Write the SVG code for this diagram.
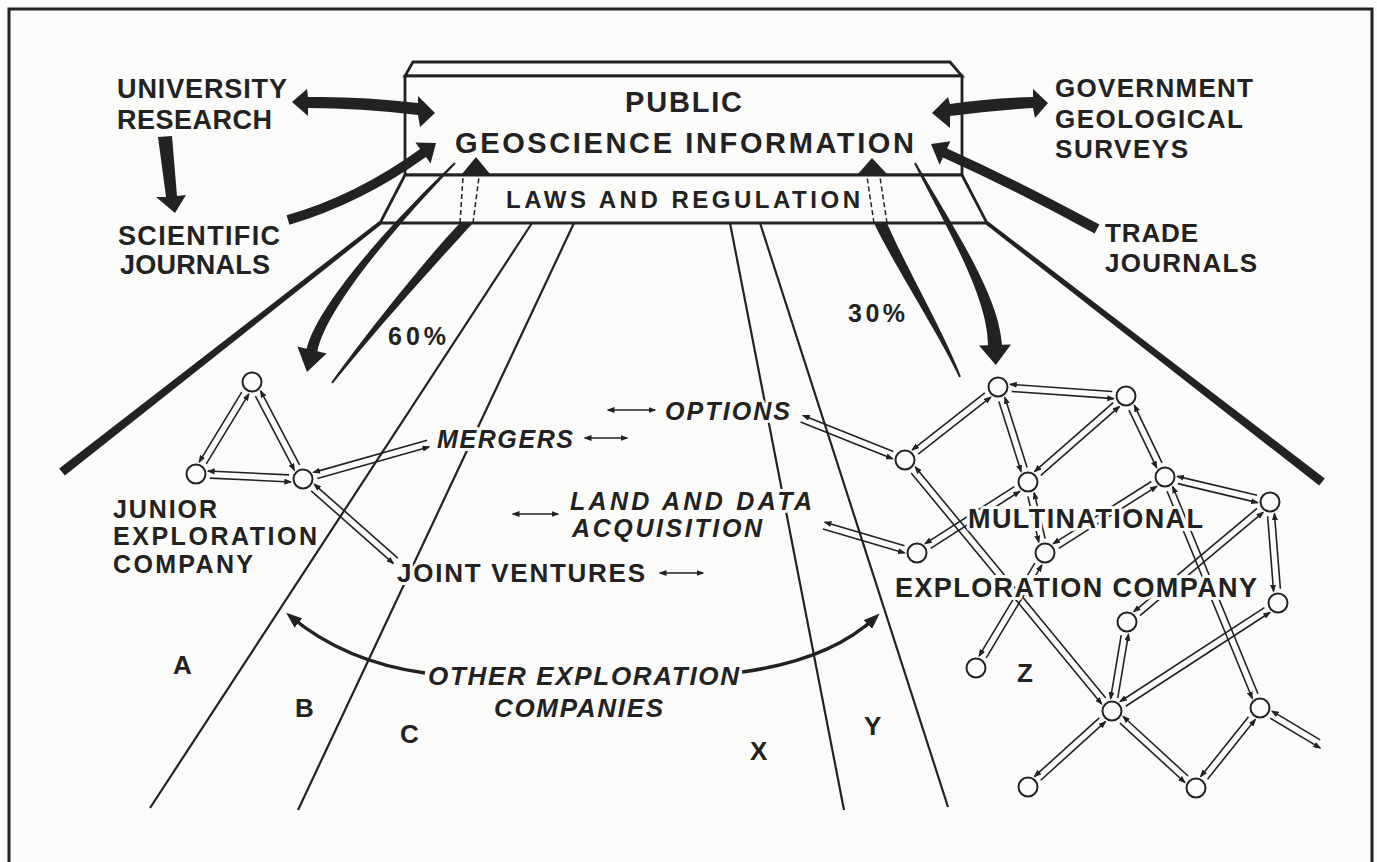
<svg xmlns="http://www.w3.org/2000/svg" width="1377" height="862" viewBox="0 0 1377 862">
<defs>
<style>
.t{font-family:"Liberation Sans",Arial,Helvetica,sans-serif;font-weight:bold;fill:#222}
.it{font-style:italic}
.halo{stroke:#fbfbfa;stroke-width:6;stroke-linejoin:round;paint-order:stroke}
.road{stroke:#222;stroke-width:2.2;fill:none}
.box{stroke:#222;stroke-width:2.8;fill:#fbfbfa;stroke-linejoin:miter}
.ink{fill:#222;stroke:none}
.dash{stroke:#222;stroke-width:1.5;stroke-dasharray:5 3;fill:none}
.pair line,.dbl{stroke:#222;stroke-width:1.6;fill:none;marker-end:url(#ah)}
.dbl{marker-start:url(#ah)}
.node circle{fill:#fbfbfa;stroke:#222;stroke-width:2}
.curve{stroke:#222;stroke-width:3.5;fill:none;marker-end:url(#ahL)}
</style>
<marker id="ah" viewBox="0 0 8 6" refX="6.5" refY="3" markerWidth="8" markerHeight="6" markerUnits="userSpaceOnUse" orient="auto-start-reverse"><path d="M0,0 L8,3 L0,6 Z" fill="#222"/></marker>
<marker id="ahL" viewBox="0 0 16 12" refX="11" refY="6" markerWidth="16" markerHeight="12" markerUnits="userSpaceOnUse" orient="auto"><path d="M0,0 L16,6 L0,12 Z" fill="#222"/></marker>
</defs>
<rect width="1377" height="862" fill="#fbfbfa"/>
<path id="frame" d="M9,862 V9 H1372 V862" fill="none" stroke="#222" stroke-width="3"/>

<g id="perspective">
<polygon class="ink" points="378.8,221.4 381.2,224.6 64.8,475.5 59.2,468.5"/>
<polygon class="ink" points="988.2,221.4 985.8,224.6 1319.2,485.6 1324.8,478.4"/>
<line class="road" x1="532" y1="223" x2="150" y2="808"/>
<line class="road" x1="574" y1="223" x2="298" y2="810"/>
<line class="road" x1="730" y1="223" x2="844" y2="810"/>
<line class="road" x1="760" y1="223" x2="948" y2="807"/>
</g>

<g id="public-geoscience">
<path class="box" d="M413,62 L950,62 L962,76 L405,76 Z"/>
<rect class="box" x="405" y="76" width="557" height="99"/>
<text class="t" x="625" y="112" font-size="29" textLength="117" lengthAdjust="spacing">PUBLIC</text>
<text class="t" x="455" y="153" font-size="29" textLength="459" lengthAdjust="spacing">GEOSCIENCE INFORMATION</text>
</g>
<g id="laws-regulation">
<path class="box" d="M405,175 L962,175 L987,223 L380,223 Z"/>
<text class="t" x="506" y="208" font-size="24" textLength="354" lengthAdjust="spacing">LAWS AND REGULATION</text>
</g>

<g id="connectors">
<path class="ink" d="M292,102 L307,89 L308,97 Q360,96 418,103 L418,96 L435,113 L420,127 L418,115 Q360,108 308,108 L308,116 Z"/>
<path class="ink" d="M158,137 L172,136 L177,196 L186,195 L175,213 L156,197 L166,197 Z"/>
<path class="ink" d="M286.6,215.2 Q356.4,195.1 420.1,148.9 L415.4,142.5 L436,143 L430.6,163.5 L425.9,157.1 Q360.6,203.9 289.4,224.8 Z"/>
<path class="ink" d="M932,113 L948,97 L950,104 Q990,98 1033,97 L1033,89 L1048,103 L1035,118 L1033,108 Q990,111 950,116 L950,128 Z"/>
<path class="ink" d="M1099.4,224.6 Q1020.2,181.5 947.1,148.4 L950.4,141.2 L931,144 L939.6,164.8 L942.9,157.6 Q1015.8,190.5 1094.6,233.4 Z"/>
<path class="ink" d="M454.3,162.3 C403.2,211.3 319,299.9 306.6,348.8 L297.4,346.6 L307,372 L326.6,353.4 L317.4,351.2 C327,304.1 406.8,214.7 455.7,163.7 Z"/>
<path class="ink" d="M332.8,383.6 C371.95,334.6 433.8,265.3 473,223 L460,223 C426.2,258.7 368.05,331.4 331.2,382.4 Z"/>
<line class="dash" x1="460" y1="223" x2="463" y2="177"/>
<line class="dash" x1="473" y1="223" x2="479" y2="177"/>
<polygon class="ink" points="462,174 476,157 490,174"/>
<path class="ink" d="M914.1,163.5 C947.4,229.5 987.8,296.7 988,345.3 L979,345.6 L995.8,365 L1011,344.4 L1002,344.7 C998.2,293.4 952.6,226.5 915.9,162.5 Z"/>
<path class="ink" d="M960.9,376.6 C947.2,338.9 902.4,259.7 887,223 L874,223 C893.6,264.3 942.8,341.1 959.1,377.4 Z"/>
<line class="dash" x1="874" y1="223" x2="867" y2="177"/>
<line class="dash" x1="887" y1="223" x2="880" y2="177"/>
<polygon class="ink" points="858,174 872,158 887,174"/>

<path class="curve" d="M425,673 Q345,662 290,616"/>
<path class="curve" d="M742,672 Q830,660 876,617"/>

<line class="dbl" x1="585" y1="438" x2="627" y2="438"/>
<line class="dbl" x1="608" y1="410" x2="655" y2="410"/>
<line class="dbl" x1="513" y1="514" x2="558" y2="514"/>
<line class="dbl" x1="660" y1="573" x2="703" y2="573"/>

<g class="pair">
<g transform="translate(252,382) rotate(121.33)"><line x1="14" y1="3.5" x2="95.7" y2="3.5"/><line x1="93.7" y1="-3.5" x2="12" y2="-3.5"/></g>
<g transform="translate(252,382) rotate(62.26)"><line x1="14" y1="3.5" x2="97.6" y2="3.5"/><line x1="95.6" y1="-3.5" x2="12" y2="-3.5"/></g>
<g transform="translate(196,474) rotate(2.68)"><line x1="14" y1="3.5" x2="95.1" y2="3.5"/><line x1="93.1" y1="-3.5" x2="12" y2="-3.5"/></g>
<g transform="translate(303,479) rotate(-15.83)"><line x1="14" y1="3.5" x2="130" y2="3.5"/><line x1="130" y1="-3.5" x2="12" y2="-3.5"/></g>
<g transform="translate(303,479) rotate(41.44)"><line x1="14" y1="3.5" x2="123.4" y2="3.5"/><line x1="123.4" y1="-3.5" x2="12" y2="-3.5"/></g>
</g>

<g class="pair">
<g transform="translate(998,387) rotate(4.02)"><line x1="14" y1="3.5" x2="116.3" y2="3.5"/><line x1="114.3" y1="-3.5" x2="12" y2="-3.5"/></g>
<g transform="translate(998,387) rotate(141.87)"><line x1="14" y1="3.5" x2="106.2" y2="3.5"/><line x1="104.2" y1="-3.5" x2="12" y2="-3.5"/></g>
<g transform="translate(998,387) rotate(72.47)"><line x1="14" y1="3.5" x2="87.6" y2="3.5"/><line x1="85.6" y1="-3.5" x2="12" y2="-3.5"/></g>
<g transform="translate(1126,396) rotate(138.73)"><line x1="14" y1="3.5" x2="118.4" y2="3.5"/><line x1="116.4" y1="-3.5" x2="12" y2="-3.5"/></g>
<g transform="translate(1126,396) rotate(64.29)"><line x1="14" y1="3.5" x2="77.9" y2="3.5"/><line x1="75.9" y1="-3.5" x2="12" y2="-3.5"/></g>
<g transform="translate(1165,477) rotate(13.39)"><line x1="14" y1="3.5" x2="95.9" y2="3.5"/><line x1="93.9" y1="-3.5" x2="12" y2="-3.5"/></g>
<g transform="translate(905,460) rotate(50.49)"><line x1="14" y1="3.5" x2="313.3" y2="3.5"/><line x1="311.3" y1="-3.5" x2="12" y2="-3.5"/></g>
<g transform="translate(1028,482) rotate(147.4)"><line x1="14" y1="3.5" x2="119.8" y2="3.5"/><line x1="117.8" y1="-3.5" x2="12" y2="-3.5"/></g>
<g transform="translate(1028,482) rotate(76.53)"><line x1="14" y1="3.5" x2="61" y2="3.5"/><line x1="59" y1="-3.5" x2="12" y2="-3.5"/></g>
<g transform="translate(1165,477) rotate(147.65)"><line x1="14" y1="3.5" x2="130" y2="3.5"/><line x1="128" y1="-3.5" x2="12" y2="-3.5"/></g>
<g transform="translate(1165,477) rotate(67.64)"><line x1="14" y1="3.5" x2="237.8" y2="3.5"/><line x1="235.8" y1="-3.5" x2="12" y2="-3.5"/></g>
<g transform="translate(1270,502) rotate(85.47)"><line x1="14" y1="3.5" x2="89.3" y2="3.5"/><line x1="87.3" y1="-3.5" x2="12" y2="-3.5"/></g>
<g transform="translate(1270,502) rotate(140)"><line x1="14" y1="3.5" x2="174.7" y2="3.5"/><line x1="172.7" y1="-3.5" x2="12" y2="-3.5"/></g>
<g transform="translate(1045,553) rotate(120.96)"><line x1="14" y1="3.5" x2="122.1" y2="3.5"/><line x1="120.1" y1="-3.5" x2="12" y2="-3.5"/></g>
<g transform="translate(1278,603) rotate(146.95)"><line x1="14" y1="3.5" x2="186" y2="3.5"/><line x1="184" y1="-3.5" x2="12" y2="-3.5"/></g>
<g transform="translate(1127,622) rotate(99.57)"><line x1="14" y1="3.5" x2="78.3" y2="3.5"/><line x1="76.3" y1="-3.5" x2="12" y2="-3.5"/></g>
<g transform="translate(1112,711) rotate(137.86)"><line x1="14" y1="3.5" x2="101.3" y2="3.5"/><line x1="99.3" y1="-3.5" x2="12" y2="-3.5"/></g>
<g transform="translate(1112,711) rotate(42.51)"><line x1="14" y1="3.5" x2="102" y2="3.5"/><line x1="100" y1="-3.5" x2="12" y2="-3.5"/></g>
<g transform="translate(1260,708) rotate(128.66)"><line x1="14" y1="3.5" x2="90.4" y2="3.5"/><line x1="88.4" y1="-3.5" x2="12" y2="-3.5"/></g>
<g transform="translate(1260,708) rotate(30.83)"><line x1="14" y1="3.5" x2="72" y2="3.5"/><line x1="68" y1="-3.5" x2="12" y2="-3.5"/></g>
<g transform="translate(800,418) rotate(21.8)"><line x1="2" y1="3.5" x2="101.1" y2="3.5"/><line x1="99.1" y1="-3.5" x2="2" y2="-3.5"/></g>
<g transform="translate(822,525) rotate(16.42)"><line x1="2" y1="3.5" x2="87" y2="3.5"/><line x1="85" y1="-3.5" x2="2" y2="-3.5"/></g>
</g>
</g>

<g id="junior-nodes" class="node">
<g id="j1"><circle cx="252" cy="382" r="9.5"/></g>
<g id="j2"><circle cx="196" cy="474" r="9.5"/></g>
<g id="j3"><circle cx="303" cy="479" r="9.5"/></g>
</g>
<g id="multinational-nodes" class="node">
<g id="m1"><circle cx="998" cy="387" r="9.5"/></g>
<g id="m2"><circle cx="1126" cy="396" r="9.5"/></g>
<g id="m3"><circle cx="905" cy="460" r="9.5"/></g>
<g id="m4"><circle cx="1028" cy="482" r="9.5"/></g>
<g id="m5"><circle cx="1165" cy="477" r="9.5"/></g>
<g id="m6"><circle cx="1270" cy="502" r="9.5"/></g>
<g id="m7"><circle cx="917" cy="553" r="9.5"/></g>
<g id="m8"><circle cx="1045" cy="553" r="9.5"/></g>
<g id="m9"><circle cx="1278" cy="603" r="9.5"/></g>
<g id="m10"><circle cx="1127" cy="622" r="9.5"/></g>
<g id="m11"><circle cx="976" cy="668" r="9.5"/></g>
<g id="m12"><circle cx="1112" cy="711" r="9.5"/></g>
<g id="m13"><circle cx="1260" cy="708" r="9.5"/></g>
<g id="m14"><circle cx="1028" cy="787" r="9.5"/></g>
<g id="m15"><circle cx="1196" cy="788" r="9.5"/></g>
</g>

<g id="university-research">
<text class="t" x="117" y="98" font-size="27" textLength="170" lengthAdjust="spacing">UNIVERSITY</text>
<text class="t" x="117" y="129" font-size="27" textLength="155" lengthAdjust="spacing">RESEARCH</text>
</g>
<g id="scientific-journals">
<text class="t" x="118" y="245" font-size="27" textLength="162" lengthAdjust="spacing">SCIENTIFIC</text>
<text class="t" x="120" y="274" font-size="27" textLength="150" lengthAdjust="spacing">JOURNALS</text>
</g>
<g id="government-surveys">
<text class="t" x="1055" y="97" font-size="26" textLength="198" lengthAdjust="spacing">GOVERNMENT</text>
<text class="t" x="1055" y="128" font-size="26" textLength="188" lengthAdjust="spacing">GEOLOGICAL</text>
<text class="t" x="1055" y="158" font-size="26" textLength="133" lengthAdjust="spacing">SURVEYS</text>
</g>
<g id="trade-journals">
<text class="t" x="1105" y="242" font-size="26" textLength="93" lengthAdjust="spacing">TRADE</text>
<text class="t" x="1105" y="272" font-size="26" textLength="152" lengthAdjust="spacing">JOURNALS</text>
</g>
<g id="percent-labels">
<text class="t halo" x="388" y="345" font-size="25" textLength="58" lengthAdjust="spacing">60%</text>
<text class="t halo" x="848" y="322" font-size="25" textLength="57" lengthAdjust="spacing">30%</text>
</g>
<g id="junior-company">
<text class="t halo" x="113" y="518" font-size="25" textLength="104" lengthAdjust="spacing">JUNIOR</text>
<text class="t halo" x="113" y="545" font-size="25" textLength="204" lengthAdjust="spacing">EXPLORATION</text>
<text class="t halo" x="113" y="573" font-size="25" textLength="140" lengthAdjust="spacing">COMPANY</text>
</g>
<g id="mergers"><text class="t it halo" x="437" y="448" font-size="25" textLength="136" lengthAdjust="spacing">MERGERS</text></g>
<g id="options"><text class="t it halo" x="665" y="420" font-size="25" textLength="125" lengthAdjust="spacing">OPTIONS</text></g>
<g id="land-data">
<text class="t it halo" x="570" y="510" font-size="25" textLength="242" lengthAdjust="spacing">LAND AND DATA</text>
<text class="t it halo" x="572" y="537" font-size="25" textLength="190" lengthAdjust="spacing">ACQUISITION</text>
</g>
<g id="joint-ventures"><text class="t halo" x="397" y="582" font-size="26" textLength="248" lengthAdjust="spacing">JOINT VENTURES</text></g>
<g id="multinational-company">
<text class="t halo" x="968" y="528" font-size="27" textLength="235" lengthAdjust="spacing">MULTINATIONAL</text>
<text class="t halo" x="895" y="597" font-size="27" textLength="362" lengthAdjust="spacing">EXPLORATION COMPANY</text>
</g>
<g id="other-companies">
<text class="t it halo" x="428" y="685" font-size="26" textLength="311" lengthAdjust="spacing">OTHER EXPLORATION</text>
<text class="t it halo" x="494" y="717" font-size="26" textLength="169" lengthAdjust="spacing">COMPANIES</text>
</g>
<g id="company-letters">
<text class="t halo" x="173" y="674" font-size="26">A</text>
<text class="t halo" x="295" y="717" font-size="26">B</text>
<text class="t halo" x="400" y="743" font-size="26">C</text>
<text class="t halo" x="750" y="760" font-size="26">X</text>
<text class="t halo" x="864" y="735" font-size="26">Y</text>
<text class="t halo" x="1017" y="682" font-size="26">Z</text>
</g>
</svg>
